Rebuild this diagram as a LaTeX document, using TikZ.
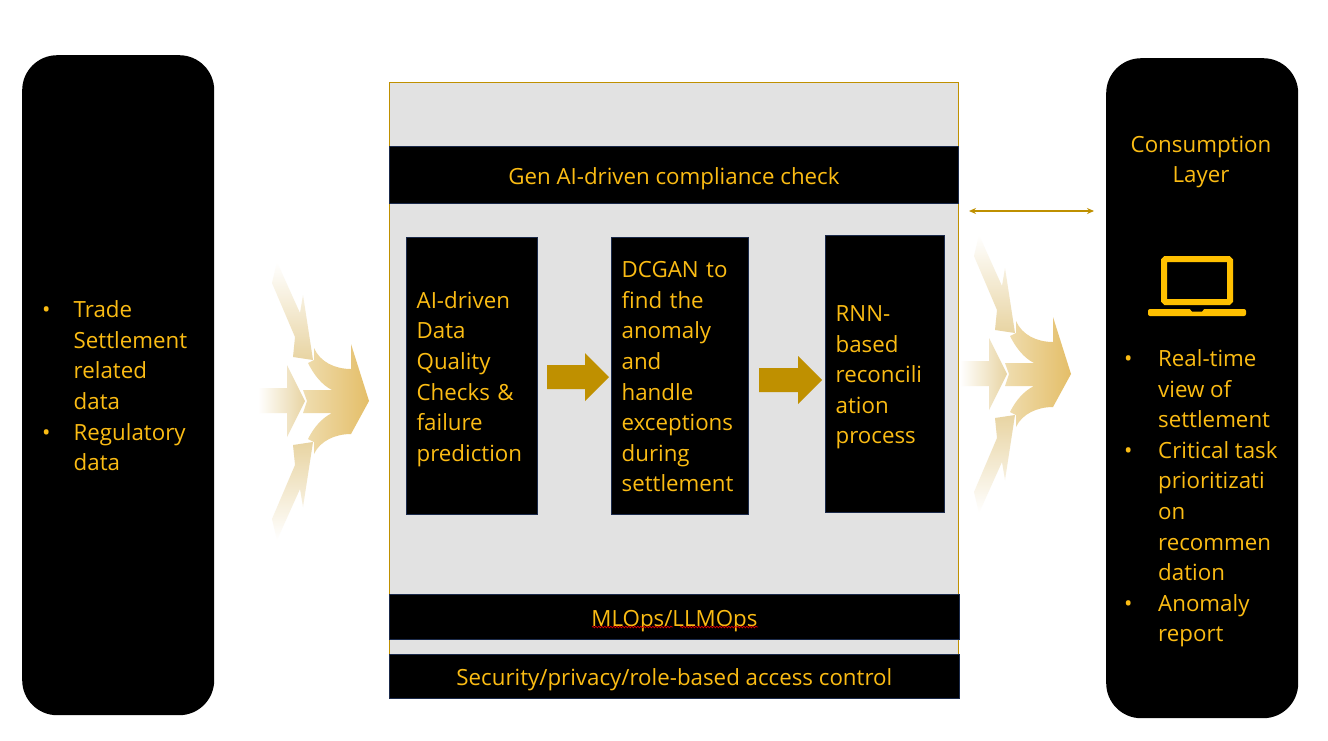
\documentclass[tikz,border=0pt]{standalone}
\usepackage{fontspec}
\setmainfont{Open Sans}
\usetikzlibrary{arrows.meta,decorations.pathmorphing}
\definecolor{gold}{HTML}{FBBC14}
\definecolor{laptop}{HTML}{FFC000}
\definecolor{dgold}{HTML}{BF9000}
\definecolor{panel}{HTML}{E2E2E2}
\definecolor{navy}{HTML}{1B2A4A}
\definecolor{tanA}{HTML}{E4BE68}
\definecolor{tanB}{HTML}{EFDDB0}
\definecolor{tanC}{HTML}{E8D4A2}
\newcommand{\txt}{\fontsize{22.3}{30.6}\selectfont}
\newcommand{\lowered}[1]{\raisebox{-3pt}[\height][\depth]{#1}}
\newcommand{\lines}[1]{\lowered{\begin{tabular}{@{}l@{}}#1\end{tabular}}}
\newcommand{\bulletlist}[2]{\lowered{\begin{tabular}{@{}p{#1pt}@{}l@{}}#2\end{tabular}}}
\newcommand{\mergearrows}{%
  \shade[left color=tanB,right color=tanA] (369,401) -- (351,344) -- (351,369)
    .. controls (335,369) and (320,362) .. (314,348) -- (314,360) -- (308,363)
    .. controls (314,375) and (322,385) .. (332,390) -- (303,390) -- (307,401) -- (303,413) -- (332,413)
    .. controls (322,418) and (314,427) .. (308,439) -- (314,442) -- (314,454)
    .. controls (320,441) and (335,434) .. (351,434) -- cycle;
  \shade[left color=white,right color=tanC] (258,388) -- (287,388) -- (287,365) -- (305,401) -- (287,437) -- (287,413) -- (258,413) -- cycle;
  \shade[top color=white,bottom color=tanC] (277,262) -- (300,313) -- (303,295) -- (313,360) -- (293,357) -- (295,337) -- (272,283) -- cycle;
  \shade[bottom color=white,top color=tanC] (277,540) -- (300,489) -- (303,507) -- (313,442) -- (293,445) -- (295,465) -- (272,519) -- cycle;
}
\tikzset{
  x=1pt,y=-1pt,
  sidebox/.style={fill=black,rounded corners=35pt,minimum width=192pt,text=gold,inner sep=0pt,font=\txt},
  barbox/.style={fill=black,draw=navy,line width=0.8pt,text=gold,inner sep=0pt,font=\txt},
  stagebox/.style={fill=black,draw=navy,line width=0.8pt,text=gold,inner sep=0pt,font=\txt,align=left},
  label/.style={text=gold,font=\txt,inner sep=0pt},
  blockarrow/.style={fill=dgold,draw=none},
  squiggle/.style={red!85!black,line width=0.7pt,decorate,decoration={snake,amplitude=0.8pt,segment length=3pt}},
}
\begin{document}
\begin{tikzpicture}
\useasboundingbox (0,0) rectangle (1328,740);
\fill[white] (0,0) rectangle (1328,740);
% side blocks
\node[sidebox,minimum height=660pt,anchor=north west] (src) at (22,55) {};
\node[sidebox,minimum height=660pt,anchor=north west] (dst) at (1106,58) {};
\node[label,anchor=west] (srctext) at (42,385) {\bulletlist{31.5}{%
  •&Trade\\ &Settlement\\ &related\\ &data\\ •&Regulatory\\ &data}};
\node[label] (consume) at (1201,158.5) {\lowered{\begin{tabular}{@{}c@{}}Consumption\\Layer\end{tabular}}};
\node[label,anchor=west] (dsttext) at (1124,495) {\bulletlist{34}{%
  •&Real-time\\ &view of\\ &settlement\\ •&Critical task\\ &prioritizati\\ &on\\ &recommen\\ &dation\\ •&Anomaly\\ &report}};
% centre panel
\node[fill=panel,draw=dgold,line width=0.7pt,minimum width=569pt,minimum height=616pt,anchor=north west,inner sep=0pt] (panel) at (389,82) {};
\node[barbox,minimum width=569pt,minimum height=57pt,anchor=north west] (top) at (389,146) {\lines{Gen AI-driven compliance check}};
\node[barbox,minimum width=570pt,minimum height=45pt,anchor=north west] (ml) at (389,594) {\lines{MLOps/LLMOps}};
\node[barbox,minimum width=570pt,minimum height=44pt,anchor=north west] (sec) at (389,654) {\lines{Security/privacy/role-based access control}};
\draw[squiggle] (592,627) -- (673,627);
\draw[squiggle] (680,627) -- (758,627);
% stages
\node[stagebox,minimum width=130.5pt,minimum height=276.5pt,anchor=north west,text width=110pt] (s1) at (406,237) {\lines{AI-driven\\Data\\Quality\\Checks \&\\failure\\prediction}};
\node[stagebox,minimum width=136.5pt,minimum height=276.5pt,anchor=north west,text width=116pt] (s2) at (611,237) {\lines{DCGAN to\\find the\\anomaly\\and\\handle\\exceptions\\during\\settlement}};
\node[stagebox,minimum width=118.5pt,minimum height=276.5pt,anchor=north west,text width=98pt] (s3) at (825,235) {\lines{RNN-\\based\\reconcili\\ation\\process}};
\fill[blockarrow] (547,365) -- (585,365) -- (585,353) -- (609,377) -- (585,401) -- (585,389) -- (547,389) -- cycle;
\fill[blockarrow] (759,368) -- (798,368) -- (798,356) -- (822,380) -- (798,404) -- (798,392) -- (759,392) -- cycle;
% double arrow
\coordinate (dl) at (969,211);
\coordinate (dr) at (1094,211);
\draw[dgold,line width=1.2pt,{Stealth[length=7pt,width=6pt]}-{Stealth[length=7pt,width=6pt]}] (dl) -- (dr);
% merging arrows
\mergearrows
\begin{scope}[shift={(702,-27)}]
\mergearrows
\end{scope}
% laptop icon
\draw[laptop,line width=6pt,rounded corners=1.5pt] (1164,259) rectangle (1230,302);
\fill[laptop,rounded corners=2pt] (1148,309) -- (1246,309) -- (1246,316) -- (1148,316) -- cycle;
\fill[black] (1190,309) -- (1204,309) -- (1202,311.5) -- (1192,311.5) -- cycle;
\end{tikzpicture}
\end{document}
